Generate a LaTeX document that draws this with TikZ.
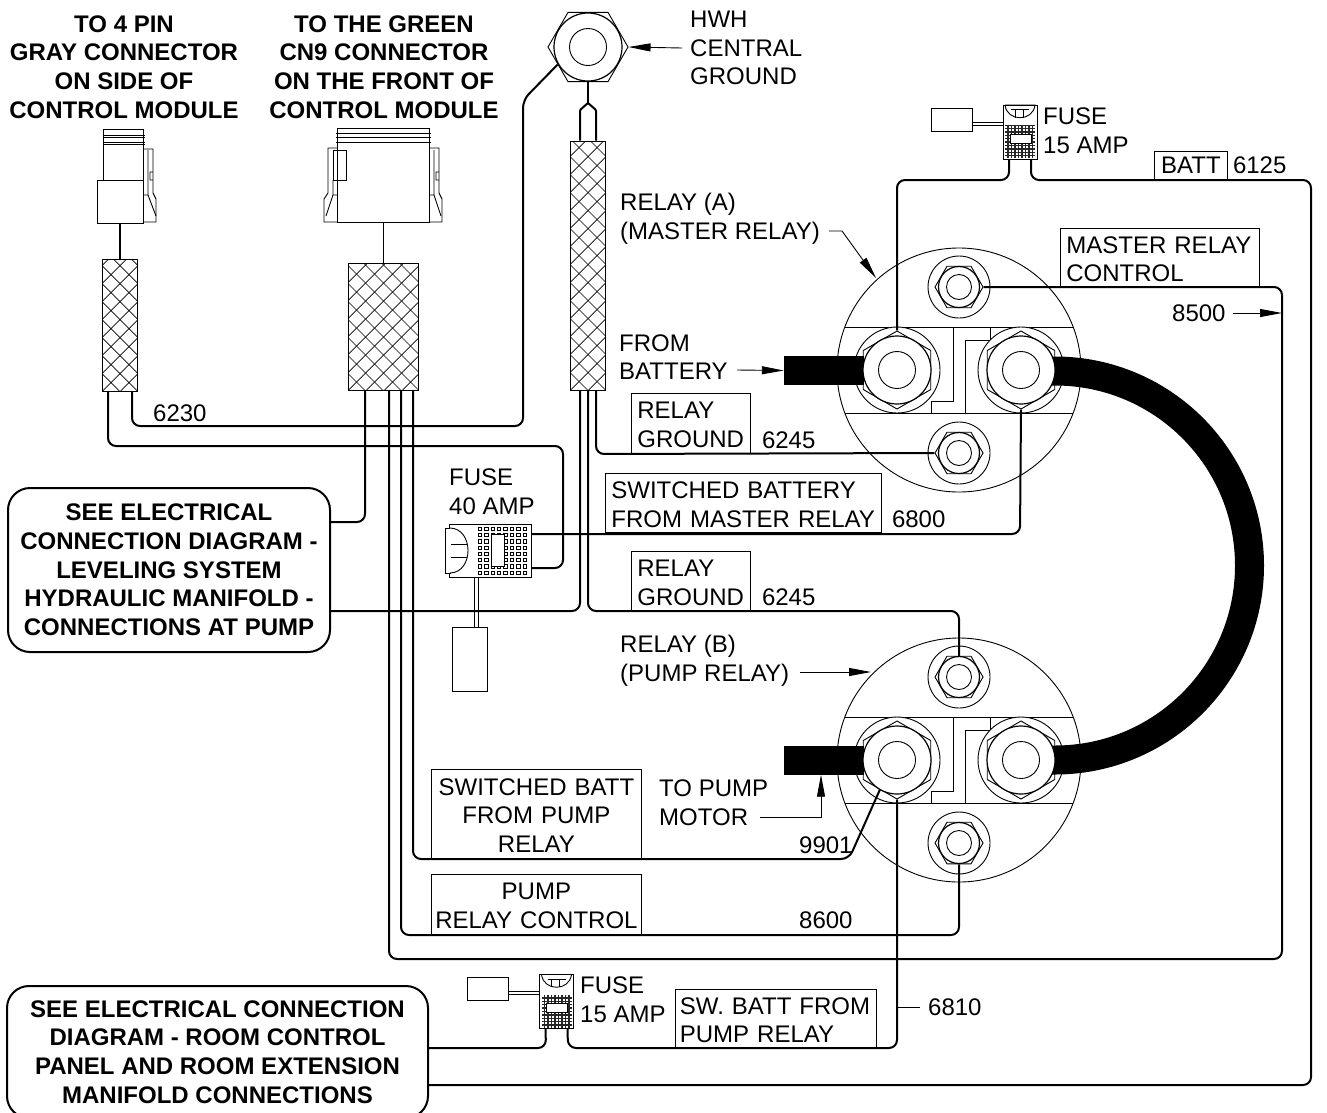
\documentclass[tikz,border=0pt]{standalone}
\usepackage{fontspec}
\setmainfont{Liberation Sans}
\usetikzlibrary{arrows.meta,shapes.geometric,positioning,calc}
\tikzset{
  txt/.style   = {font=\fontsize{24}{28.7}\selectfont, inner sep=0pt, align=left},
  head/.style  = {txt, font=\fontsize{24}{28.7}\selectfont\bfseries, align=center},
  bubble/.style = {head, draw, line width=2pt, rounded corners=22pt},
  wirebox/.style 2 args = {txt, draw, line width=.8pt, text width=#1, minimum height=#2, inner xsep=6pt, execute at end node={\vspace{-3pt}}},
  wire/.style  = {line width=2pt, rounded corners=8pt},
  thinline/.style = {line width=.9pt},
  leader/.style = {line width=.9pt, -{Triangle[length=22pt,width=8pt]}},
  lead/.style  = {line width=.8pt},
  stub/.style  = {fill=black, inner sep=0pt, minimum width=80pt, minimum height=29pt},
  hexsmall/.style = {regular polygon, regular polygon sides=6, draw, fill=white, line width=.9pt, inner sep=0pt, minimum size=48pt},
  hexbig/.style = {hexsmall, minimum size=78pt, shape border rotate=30},
  ring/.style  = {circle, draw, fill=white, line width=.9pt, inner sep=0pt, minimum size=#1},
  braid/.style 2 args = {draw, fill=white, line width=1pt, inner sep=0pt, minimum width=#1, minimum height=#2,
    path picture={
      \foreach \k in {-16,...,16}{
        \draw[line width=.7pt] ([xshift=\k*18pt]path picture bounding box.south west) -- ++(300pt,300pt);
        \draw[line width=.7pt] ([xshift=\k*18pt]path picture bounding box.south east) -- ++(-300pt,300pt);
      }}},
  plug/.style 2 args = {draw, fill=white, line width=.8pt, inner sep=0pt, minimum width=#1, minimum height=#2},
  relay/.pic = {
    \draw[thinline] (0,0) circle[radius=122pt];
    \draw[thinline] (-114,-43) -- (114,-43) (-114,43) -- (114,43);
    \draw[thinline] (-6,-43) -- (-6,31) -- (-28,31) -- (-28,43);
    \draw[thinline] (31,-43) -- (31,-30) -- (6,-30) -- (6,43);
    \foreach \n/\yy in {top/-83,bottom/83}{
      \node[ring=62pt] at (0,\yy) {};
      \node[hexsmall] (-\n) at (0,\yy) {};
      \node[ring=41pt,line width=1.2pt] at (0,\yy) {};
      \node[ring=25pt] at (0,\yy) {};
    }
    \foreach \n/\xx in {left/-62,right/62}{
      \node[ring=86pt] at (\xx,0) {};
      \node[hexbig] (-\n) at (\xx,0) {};
    }
  },
  relaystud/.pic = {
    \foreach \xx in {-62,62}{
      \node[ring=68pt,line width=1.2pt] at (\xx,0) {};
      \node[ring=37pt] at (\xx,0) {};
    }
  },
  smallfuse/.pic = {
    \node[plug={41pt}{23pt}] (-plug) at (-68.5,-12.5) {};
    \node[plug={34pt}{54pt}] (-body) at (0,0) {};
    \draw[lead] ([yshift=-2.5pt]-plug.east) -- ++(31,0);
    \draw[lead] ([yshift=-5.5pt]-plug.east) -- ++(31,0);
    \fill[black!85] (-15,-7) rectangle (15,26);
    \foreach \i in {0,...,8}{\foreach \j in {0,...,9}{
      \fill[white] (-14.7+\i*3.5,-6.3+\j*3.4) rectangle ++(2,2);
    }}
    \draw[line width=.9pt,fill=white] (-10,2) rectangle (11,11);
    \draw[line width=.9pt] (-15,-27) -- (15,-27) .. controls (13,-10) and (-13,-10) .. (-15,-27);
    \draw[line width=.9pt] (-9,-22.5) -- (9,-22.5) (-5,-22.5) -- (-5,-14.5) (3,-22.5) -- (3,-14.5);
  },
  bigfuse/.pic = {
    \node[plug={35pt}{64pt}] (-plug) at (-20.5,108.5) {};
    \node[plug={82pt}{53pt}] (-body) at (0,0) {};
    \draw[lead] ([xshift=4.5pt]-plug.north) -- ++(0,-50);
    \draw[lead] ([xshift=8.5pt]-plug.north) -- ++(0,-50);
    \foreach \i in {0,...,7}{\foreach \j in {0,...,7}{
      \draw[line width=.9pt] (-11.8+\i*6.4,-23.3+\j*6.25) rectangle ++(3.4,3.4);
    }}
    \draw[line width=.9pt,fill=white] (1,-16.5) rectangle (14,15.5);
    \draw[line width=.9pt,fill=white] (-45,-22.5) rectangle (-40,22.5);
    \draw[line width=.9pt,fill=white] (-40,-22.5) .. controls (-16,-22) and (-16,22) .. (-40,22.5);
    \draw[line width=.9pt] (-39,-6.5) -- (-23,-6.5) (-39,6.5) -- (-23,6.5);
  }
}

\begin{document}
\begin{tikzpicture}[x=1pt,y=-1pt]
\useasboundingbox (0,0) rectangle (1327,1112);

% heads
\node[head] (headA) at (124,67) {TO 4 PIN\\GRAY CONNECTOR\\ON SIDE OF\\CONTROL MODULE};
\node[head] (headB) at (384,67) {TO THE GREEN\\CN9 CONNECTOR\\ON THE FRONT OF\\CONTROL MODULE};
\node[txt,anchor=west] (lblHwh) at (690,48) {HWH\\CENTRAL\\GROUND};

% connectors
\node[plug={40pt}{51pt}] (connAneck) at (123.5,154.5) {};
\node[plug={46pt}{43pt}] (connA) at (120,201.5) {};
\draw[thinline] (103,135) -- (145,135) (103,137) -- (145,137) (103,142) -- (145,142) (103,144) -- (145,144);
\draw[thinline] (144,149) -- (153,149) -- (153,193) -- (156,199) -- (156,222) -- (143,222);
\draw[thinline] (148,150) -- (148,195) -- (143,195) (148,195) -- (156,216) (153,172) -- (150,172) -- (150,180) -- (153,180);

\node[plug={92pt}{94pt}] (connB) at (383.5,175) {};
\draw[thinline] (336,133) -- (431,133) (336,137) -- (431,137) (336,142) -- (431,142);
\draw[thinline] (337,148) -- (328,148) -- (328,193) -- (324,199) -- (324,222) -- (337,222);
\draw[thinline] (333,150) -- (346,150) -- (346,180) -- (333,180) -- cycle;
\draw[thinline] (333,180) -- (333,195) -- (337,195) (333,195) -- (326,216);
\draw[thinline] (430,148) -- (439,148) -- (439,193) -- (442,199) -- (442,222) -- (430,222);
\draw[thinline] (434,150) -- (434,195) -- (430,195) (434,195) -- (441,216) (439,172) -- (436,172) -- (436,180) -- (439,180);

% sleeves
\node[braid={35pt}{132pt}] (sleeveA) at (120,325) {};
\node[braid={70pt}{127pt}] (sleeveB) at (383.5,326.5) {};
\node[braid={35pt}{249pt}] (sleeveC) at (588,265.5) {};
\draw[line width=1.3pt] (connA.south) -- (sleeveA.north);
\draw[line width=1.3pt] (connB.south) -- (sleeveB.north);

% ground lug
\node[hexsmall,minimum size=80pt] (hwh) at (588,47) {};
\node[ring=68pt,line width=1.2pt] (hwhRing) at (588,47) {};
\node[ring=37pt] (hwhStud) at (588,47) {};
\draw[wire,rounded corners=1pt] (hwh.south) -- (588,103);
\draw[wire,rounded corners=1pt] ([xshift=-8pt]sleeveC.north) -- (580,110) -- (588,103) -- (596,110) -- ([xshift=8pt]sleeveC.north);

% relays and cables
\pic (relA) at (959,370) {relay};
\pic (relB) at (959,760) {relay};
\node[stub] (cableA) at (824,370.5) {};
\node[stub] (cableB) at (824,760) {};
\draw[line width=29pt] (1040,371) -- (1055,371) arc[start angle=90,end angle=-90,radius=194.5pt] -- (1040,760);
\pic (studA) at (959,370) {relaystud};
\pic (studB) at (959,760) {relaystud};

% fuses
\pic (fuseT) at (1020,132) {smallfuse};
\pic (fuseB) at (556.5,1001.5) {smallfuse};
\pic (fuseM) at (490,550.5) {bigfuse};

% bubbles
\node[bubble,minimum width=322pt,minimum height=164pt] (noteA) at (169,570) {SEE ELECTRICAL\\CONNECTION DIAGRAM -\\LEVELING SYSTEM\\HYDRAULIC MANIFOLD -\\CONNECTIONS AT PUMP};
\node[bubble,minimum width=421pt,minimum height=132pt] (noteB) at (217.5,1052) {SEE ELECTRICAL CONNECTION\\DIAGRAM - ROOM CONTROL\\PANEL AND ROOM EXTENSION\\MANIFOLD CONNECTIONS};

% wires
\draw[wire] ([xshift=12pt]sleeveA.south) -- (132,426) -- (523,426) -- (523,100) -- (hwh.210);
\draw[wire] ([xshift=-12pt]sleeveA.south) -- (108,446) -- (563,446) -- (563,568) -- ([yshift=-17.5pt]fuseM-body.east);
\draw[wire] ([xshift=-18.5pt]sleeveB.south) -- (365,522) -- (noteA.east |- 0,522);
\draw[wire] ([xshift=5.5pt]sleeveB.south) -- (389,959) -- (1282,959) -- (1282,287) -- (relA-top.east);
\draw[wire] ([xshift=17.5pt]sleeveB.south) -- (401,935) -- (959,935) -- (relB-bottom.south);
\draw[wire] ([xshift=29.5pt]sleeveB.south) -- (413,859) -- (849,859) -- (relB-left.240);
\draw[wire] ([xshift=8pt]sleeveC.south) -- (596,454) -- (relA-bottom.west);
\draw[wire] (sleeveC.south) -- (588,611) -- (959,611) -- (relB-top.north);
\draw[wire] ([xshift=-8pt]sleeveC.south) -- (580,611) -- (noteA.east |- 0,611);
\draw[wire] ([yshift=16.5pt]fuseM-body.east) -- (1020,534) -- (relA-right.south);
\draw[wire] ([xshift=-11pt]fuseT-body.south) -- (1009,180) -- (897,180) -- (relA-left.north);
\draw[wire] ([xshift=11pt]fuseT-body.south) -- (1031,180) -- (1311,180) -- (1311,1085) -- (noteB.east |- 0,1085);
\draw[wire] ([xshift=-11pt]fuseB-body.south) -- (546,1048) -- (noteB.east |- 0,1048);
\draw[wire] ([xshift=11pt]fuseB-body.south) -- (568,1048) -- (897,1048) -- (relB-left.south);

% boxes
\node[wirebox={61pt}{28pt},anchor=south west,align=center] (boxBatt) at (1154,180) {BATT};
\node[wirebox={187pt}{58pt},anchor=south west] (boxMaster) at (1060,287) {MASTER RELAY\\CONTROL};
\node[wirebox={107pt}{60pt},anchor=south west] (gndA) at (631,454) {RELAY\\GROUND};
\node[wirebox={264pt}{59pt},anchor=south west] (boxSwitched) at (605,533) {SWITCHED BATTERY\\FROM MASTER RELAY};
\node[wirebox={107pt}{59pt},anchor=south west] (gndB) at (631,611) {RELAY\\GROUND};
\node[wirebox={204pt}{89pt},inner xsep=3pt,anchor=south west,align=center] (boxPump) at (431,859) {SWITCHED BATT\\FROM PUMP\\RELAY};
\node[wirebox={204pt}{60pt},inner xsep=3pt,anchor=south west,align=center] (boxControl) at (431,935) {PUMP\\RELAY CONTROL};
\node[wirebox={192pt}{58pt},inner xsep=4.5pt,anchor=south west] (boxSw) at (675,1048) {SW. BATT FROM\\PUMP RELAY};

% numbers
\node[txt,above right=6pt and 5pt of boxBatt.south east] (num6125) {6125};
\node[txt,above right=5pt and 11pt of gndA.south east] (num6245a) {6245};
\node[txt,above right=5pt and 10pt of boxSwitched.south east] (num6800) {6800};
\node[txt,above right=5pt and 11pt of gndB.south east] (num6245b) {6245};
\node[txt,anchor=west] (num6230) at (153,413) {6230};
\node[txt,anchor=west] (num8500) at (1172,313) {8500};
\node[txt,anchor=west] (num9901) at (799,845) {9901};
\node[txt,anchor=west] (num8600) at (799,920) {8600};
\node[txt,anchor=west] (num6810) at (928,1007) {6810};
\draw[thinline] (897,1007) -- ([xshift=-8pt]num6810.west);

% fuse labels
\node[txt,anchor=west] (lblFuseT) at (1043,131) {FUSE\\15 AMP};
\node[txt,anchor=west] (lblFuseM) at (449,492) {FUSE\\40 AMP};
\node[txt,anchor=west] (lblFuseB) at (580,1000) {FUSE\\15 AMP};

% callouts
\node[txt,anchor=west] (lblFrom) at (619,357) {FROM\\BATTERY};
\node[txt,anchor=west] (lblRelayA) at (620,219) {RELAY (A)\\(MASTER RELAY)};
\node[txt,anchor=west] (lblRelayB) at (620,660.5) {RELAY (B)\\(PUMP RELAY)};
\node[txt,anchor=west] (lblMotor) at (659,802.5) {TO PUMP\\MOTOR};
\draw[leader] ([xshift=-8pt]lblHwh.west) ++(0,0) -- (hwh.east);
\draw[leader] (737,370) -- (cableA.west);
\draw[leader] (829,231) -- (842,231) -- (876,278);
\draw[leader] (800,672) -- (871,672);
\draw[leader] (760,817) -- (821,817) -- (cableB.south -| 821,0);
\draw[leader] ([xshift=7pt]num8500.east) -- (1282,313);
\end{tikzpicture}
\end{document}
